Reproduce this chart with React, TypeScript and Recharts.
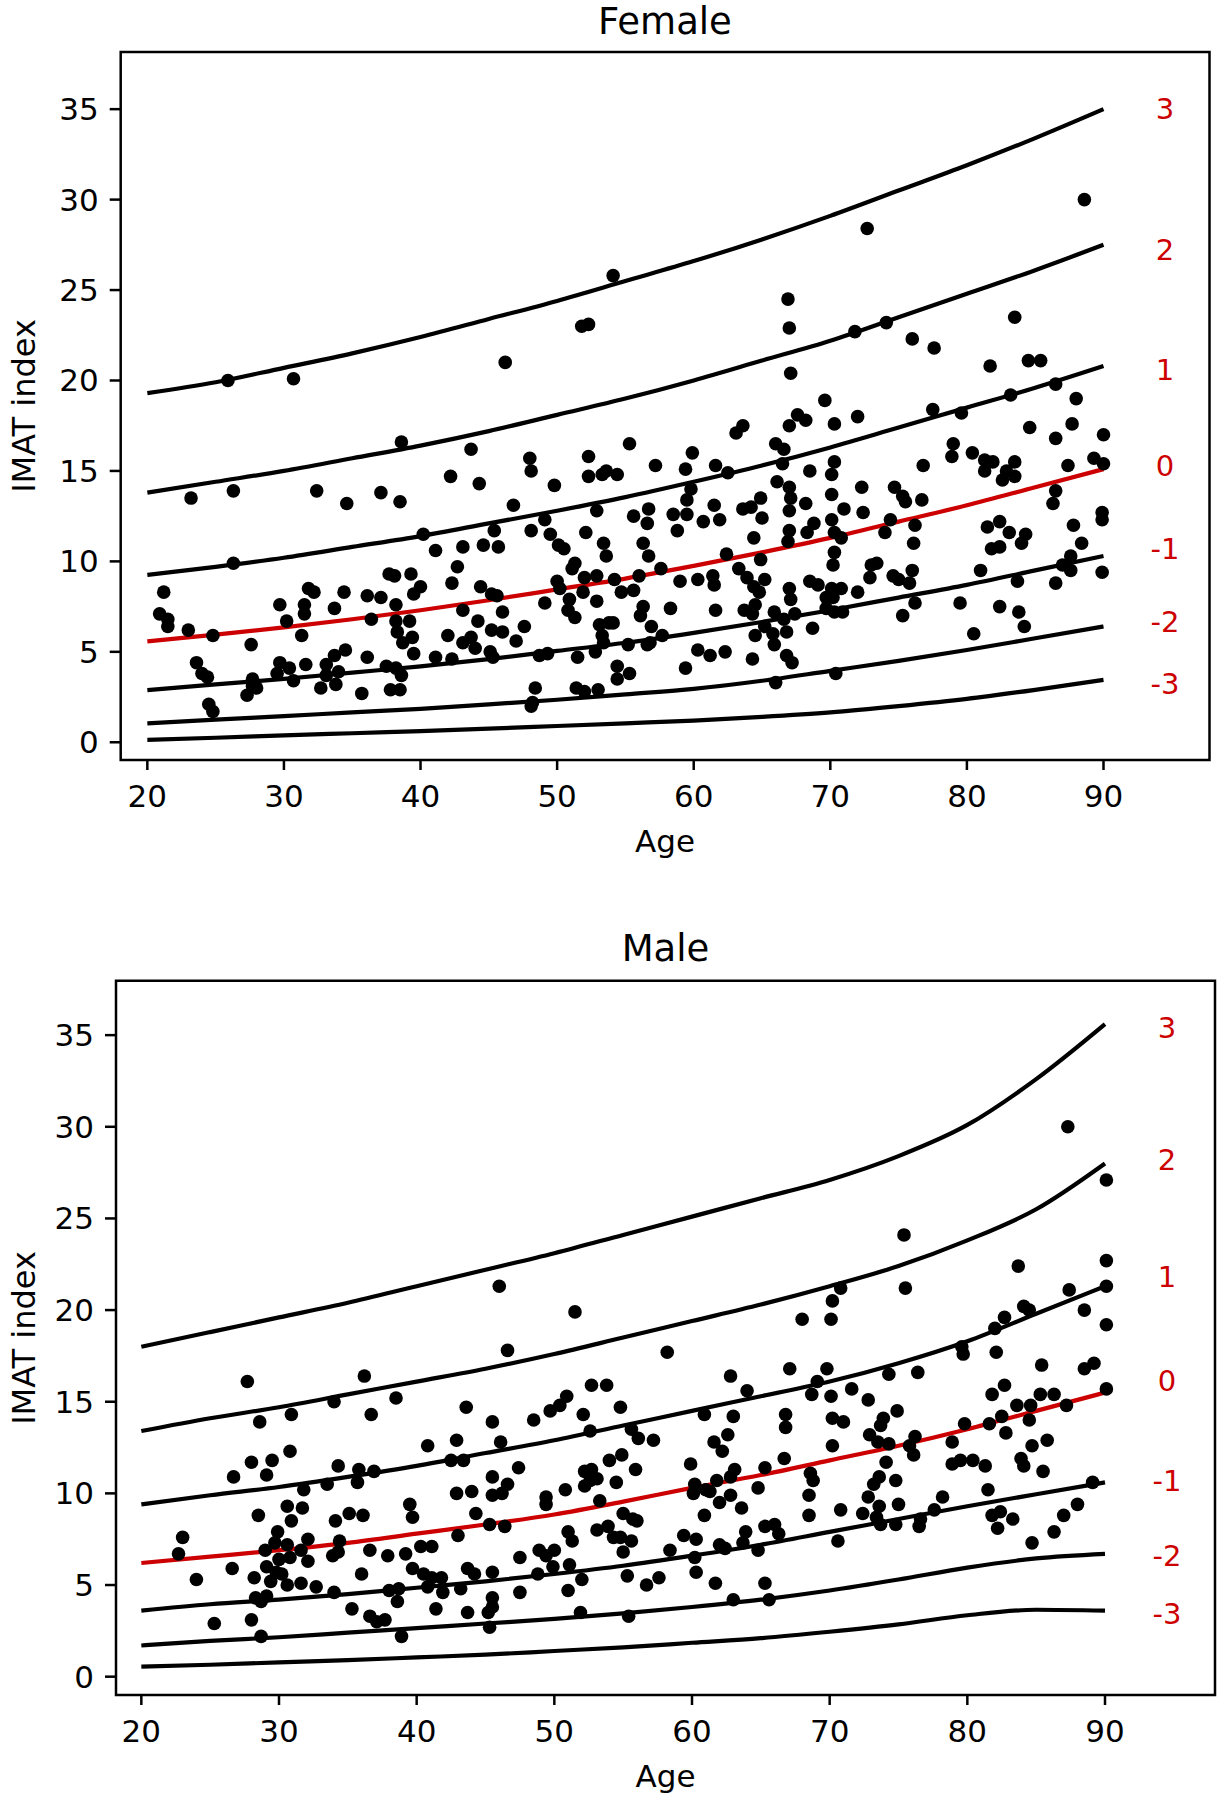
import React from 'react';
import { ComposedChart, Line, Scatter, XAxis, YAxis, ReferenceArea } from 'recharts';

// ages at which the centile curves were read
const curveAges = [20, 25, 30, 35, 40, 45, 50, 55, 60, 65, 70, 75, 80, 85, 90];

// Female curves, z = 3 ... -3
const femaleZ3 = [19.3, 19.9, 20.7, 21.5, 22.4, 23.4, 24.4, 25.5, 26.6, 27.8, 29.1, 30.5, 31.9, 33.4, 35.0];
const femaleZ2 = [13.8, 14.4, 15.0, 15.7, 16.4, 17.2, 18.1, 19.0, 20.0, 21.1, 22.2, 23.5, 24.8, 26.1, 27.5];
const femaleZ1 = [9.25, 9.7, 10.2, 10.8, 11.4, 12.1, 12.8, 13.55, 14.4, 15.3, 16.3, 17.4, 18.5, 19.6, 20.8];
const femaleZ0 = [5.58, 5.95, 6.35, 6.8, 7.3, 7.85, 8.45, 9.05, 9.75, 10.5, 11.3, 12.2, 13.1, 14.1, 15.1];
const femaleZm1 = [2.88, 3.2, 3.5, 3.85, 4.2, 4.6, 5.05, 5.5, 6.05, 6.65, 7.3, 8.0, 8.7, 9.5, 10.3];
const femaleZm2 = [1.04, 1.25, 1.45, 1.65, 1.85, 2.1, 2.35, 2.65, 2.95, 3.4, 3.95, 4.5, 5.1, 5.75, 6.4];
const femaleZm3 = [0.13, 0.25, 0.38, 0.5, 0.62, 0.75, 0.9, 1.05, 1.2, 1.4, 1.65, 2.0, 2.4, 2.9, 3.45];

// Male curves, z = 3 ... -3
const maleZ3 = [18.0, 18.8, 19.6, 20.4, 21.3, 22.2, 23.1, 24.1, 25.1, 26.1, 27.1, 28.4, 30.1, 32.6, 35.6];
const maleZ2 = [13.4, 14.1, 14.7, 15.4, 16.1, 16.8, 17.6, 18.5, 19.4, 20.3, 21.3, 22.4, 23.8, 25.5, 28.0];
const maleZ1 = [9.4, 9.9, 10.35, 10.9, 11.5, 12.2, 12.9, 13.7, 14.5, 15.3, 16.1, 17.1, 18.3, 19.8, 21.3];
const maleZ0 = [6.2, 6.55, 6.9, 7.3, 7.8, 8.3, 8.85, 9.55, 10.3, 11.0, 11.8, 12.6, 13.5, 14.5, 15.5];
const maleZm1 = [3.6, 3.95, 4.2, 4.5, 4.85, 5.2, 5.6, 6.05, 6.6, 7.2, 7.9, 8.6, 9.3, 9.95, 10.6];
const maleZm2 = [1.7, 1.95, 2.15, 2.4, 2.65, 2.9, 3.15, 3.45, 3.8, 4.2, 4.7, 5.3, 5.95, 6.45, 6.7];
const maleZm3 = [0.55, 0.65, 0.78, 0.9, 1.05, 1.2, 1.4, 1.6, 1.85, 2.1, 2.45, 2.85, 3.35, 3.65, 3.6];

// z-score labels drawn at the right end of the curves
const zLabels = ['3', '2', '1', '0', '-1', '-2', '-3'];
const labelAge = 94.5;
const femaleLabelY = [35.0, 27.2, 20.6, 15.3, 10.7, 6.65, 3.2];
const maleLabelY = [35.4, 28.2, 21.8, 16.15, 10.7, 6.6, 3.4];

const xTicks = [20, 30, 40, 50, 60, 70, 80, 90];
const yTicks = [0, 5, 10, 15, 20, 25, 30, 35];

// [age, IMAT index]
const femalePoints: [number, number][] = [
  [25.9, 20.0], [30.7, 20.1], [38.6, 16.6], [23.2, 13.5], [26.3, 13.9], [32.4, 13.9], [34.6, 13.2], [37.1, 13.8],
  [38.5, 13.3], [42.2, 14.7], [40.2, 11.5], [26.3, 9.9], [41.1, 10.6], [42.7, 9.7], [42.3, 8.8], [21.2, 8.3],
  [20.9, 7.1], [21.5, 6.8], [21.5, 6.4], [23.0, 6.2], [24.8, 5.9], [27.6, 5.4], [23.6, 4.4], [24.0, 3.8],
  [24.4, 3.6], [24.5, 2.1], [24.8, 1.7], [29.7, 7.6], [31.8, 8.5], [32.2, 8.3], [31.5, 7.6], [31.5, 7.1],
  [30.2, 6.7], [31.3, 5.9], [33.7, 7.4], [34.4, 8.3], [36.1, 8.1], [37.1, 8.0], [36.4, 6.8], [37.7, 9.3],
  [38.1, 9.2], [39.3, 9.3], [40.0, 8.6], [39.5, 8.2], [38.2, 7.6], [38.2, 6.7], [39.2, 6.7], [38.3, 6.1],
  [39.4, 5.8], [38.7, 5.5], [39.5, 4.9], [42.0, 5.9], [41.1, 4.7], [42.3, 4.6], [29.7, 4.4], [30.4, 4.1],
  [29.5, 3.8], [30.7, 3.4], [31.6, 4.3], [33.1, 4.3], [33.7, 4.8], [34.5, 5.1], [34.0, 3.9], [33.1, 3.7],
  [33.8, 3.2], [32.7, 3.0], [36.1, 4.7], [35.7, 2.7], [37.5, 4.2], [38.2, 4.1], [38.6, 3.7], [37.8, 2.9],
  [38.5, 2.9], [27.7, 3.5], [28.0, 3.0], [27.3, 2.6], [27.7, 3.1],
  [54.1, 25.8], [66.9, 24.5], [67.0, 22.9], [67.1, 20.4], [51.8, 23.0], [52.3, 23.1], [46.2, 21.0], [43.7, 16.2],
  [67.6, 18.1], [67.0, 17.5], [63.1, 17.1], [63.6, 17.5], [55.3, 16.5], [57.2, 15.3], [48.0, 15.7], [48.1, 15.0],
  [44.3, 14.3], [49.8, 14.2], [52.3, 15.8], [52.3, 14.7], [53.3, 14.8], [53.6, 15.0], [54.4, 14.8], [59.4, 15.1],
  [59.9, 16.0], [61.6, 15.3], [62.5, 14.9], [66.0, 16.5], [66.6, 16.2], [66.5, 15.4], [66.1, 14.4], [67.0, 14.1],
  [67.1, 13.5], [64.9, 13.5], [65.0, 12.4], [67.0, 12.8], [67.0, 11.7], [66.9, 11.1], [64.4, 11.3], [64.2, 13.0],
  [63.6, 12.9], [61.5, 13.1], [61.9, 12.3], [60.7, 12.2], [59.5, 12.6], [59.5, 13.4], [59.8, 14.0], [58.5, 12.6],
  [58.8, 11.7], [56.7, 12.9], [56.6, 12.1], [55.6, 12.5], [56.3, 11.0], [56.7, 10.3], [52.9, 12.8], [52.1, 11.6],
  [49.1, 12.3], [48.1, 11.7], [49.5, 11.5], [46.8, 13.1], [45.4, 11.7], [45.7, 10.8], [43.1, 10.8], [44.6, 10.9],
  [50.1, 10.9], [50.5, 10.7], [51.3, 9.9], [51.1, 9.6], [53.4, 11.0], [53.6, 10.3], [52.0, 9.1], [52.9, 9.2],
  [54.2, 9.0], [54.7, 8.3], [55.6, 8.4], [56.0, 9.2], [57.6, 9.6], [59.0, 8.9], [60.3, 9.0], [61.4, 9.2],
  [61.5, 8.7], [62.4, 10.4], [63.3, 9.6], [63.9, 9.1], [64.4, 8.6], [64.8, 8.3], [65.2, 9.0], [64.9, 10.1],
  [67.0, 8.5], [67.1, 7.9], [63.7, 7.3], [64.5, 7.6], [64.3, 7.1], [65.9, 7.2], [66.6, 6.8], [67.4, 7.1],
  [61.6, 7.3], [58.3, 7.4], [56.3, 7.5], [56.1, 7.0], [52.9, 7.8], [50.9, 7.9], [50.8, 7.3], [51.3, 6.9],
  [51.9, 8.3], [50.0, 8.9], [50.2, 8.5], [49.1, 7.7], [44.4, 8.6], [45.2, 8.2], [45.6, 8.1], [46.0, 7.2],
  [43.1, 7.3], [44.2, 6.7], [45.2, 6.2], [46.0, 6.1], [47.6, 6.4], [47.0, 5.6], [43.7, 5.8], [43.1, 5.5],
  [44.0, 5.2], [45.1, 5.0], [45.3, 4.7], [48.7, 4.8], [49.3, 4.9], [51.5, 4.7], [52.8, 5.0], [53.1, 6.5],
  [53.8, 6.6], [54.1, 6.6], [53.3, 5.9], [53.4, 5.5], [55.2, 5.4], [56.9, 6.4], [56.8, 5.5], [57.7, 5.9],
  [56.6, 5.4], [54.4, 4.2], [54.4, 3.5], [55.3, 3.8], [59.4, 4.1], [60.3, 5.1], [61.2, 4.8], [62.3, 5.0],
  [64.3, 4.6], [64.5, 5.9], [65.2, 6.4], [65.8, 6.0], [66.8, 6.1], [65.9, 5.4], [66.8, 4.8], [67.2, 4.4],
  [66.0, 3.3], [48.4, 3.0], [48.2, 2.2], [48.1, 2.0], [51.4, 3.0], [52.0, 2.8], [53.0, 2.9],
  [88.6, 30.0], [72.7, 28.4], [83.5, 23.5], [71.8, 22.7], [74.1, 23.2], [76.0, 22.3], [77.6, 21.8], [81.7, 20.8],
  [84.5, 21.1], [85.4, 21.1], [69.6, 18.9], [68.2, 17.8], [70.3, 17.6], [72.0, 18.0], [77.5, 18.4], [79.6, 18.2],
  [83.2, 19.2], [86.5, 19.8], [88.0, 19.0], [84.6, 17.4], [87.7, 17.6], [86.5, 16.8], [90.0, 17.0], [79.0, 16.5],
  [78.9, 15.8], [80.4, 16.0], [81.3, 15.6], [81.9, 15.5], [81.3, 15.0], [82.6, 14.5], [82.9, 15.0], [83.5, 15.5],
  [83.5, 14.7], [87.4, 15.3], [89.3, 15.7], [90.0, 15.4], [76.8, 15.3], [68.5, 15.0], [70.3, 15.5], [70.1, 14.8],
  [70.1, 13.7], [72.3, 14.1], [74.7, 14.1], [75.3, 13.6], [75.5, 13.3], [76.7, 13.4], [68.2, 13.2], [71.0, 12.9],
  [72.4, 12.7], [70.1, 12.3], [68.8, 12.1], [68.3, 11.6], [70.3, 11.6], [70.8, 11.3], [74.4, 12.3], [74.0, 11.6],
  [76.2, 12.0], [76.1, 11.0], [86.5, 13.9], [86.3, 13.2], [89.9, 12.7], [89.9, 12.3], [87.8, 12.0], [88.4, 11.0],
  [81.5, 11.9], [82.4, 12.2], [83.1, 11.6], [84.3, 11.5], [84.0, 11.0], [81.8, 10.7], [82.4, 10.8], [87.6, 10.3],
  [87.0, 9.8], [87.6, 9.5], [89.9, 9.4], [81.0, 9.5], [83.7, 8.9], [86.5, 8.8], [70.3, 10.5], [70.2, 9.8],
  [73.0, 9.8], [73.4, 9.9], [72.9, 9.1], [74.6, 9.2], [75.0, 9.0], [76.0, 9.5], [75.8, 8.8], [68.5, 8.9],
  [69.1, 8.7], [70.1, 8.5], [70.8, 8.5], [72.0, 8.3], [69.7, 8.0], [70.2, 8.0], [69.7, 7.4], [70.3, 7.2],
  [70.9, 7.2], [76.2, 7.7], [75.3, 7.0], [79.5, 7.7], [82.4, 7.5], [83.8, 7.2], [84.2, 6.4], [80.5, 6.0],
  [68.7, 6.3], [70.4, 3.8],
];

const malePoints: [number, number][] = [
  [27.7, 16.1], [36.2, 16.4], [28.6, 13.9], [30.9, 14.3], [34.0, 15.0], [36.7, 14.3], [38.5, 15.2], [40.8, 12.6],
  [42.5, 11.8], [42.9, 10.0], [30.8, 12.3], [28.0, 11.7], [29.5, 11.8], [29.1, 11.0], [26.7, 10.9], [34.3, 11.5],
  [35.8, 11.3], [36.9, 11.2], [33.5, 10.5], [35.7, 10.6], [31.8, 10.2], [31.7, 9.2], [30.6, 9.3], [30.9, 8.5],
  [28.5, 8.8], [29.9, 7.9], [34.1, 8.5], [35.1, 8.9], [36.1, 8.8], [39.5, 9.4], [39.7, 8.7], [23.0, 7.6],
  [22.7, 6.7], [24.0, 5.3], [26.6, 5.9], [28.2, 5.4], [29.0, 6.9], [29.7, 7.3], [30.6, 7.2], [30.8, 6.5],
  [31.6, 6.9], [32.1, 7.5], [30.0, 6.4], [29.1, 6.0], [29.8, 5.7], [29.4, 5.2], [30.2, 5.6], [32.1, 6.3],
  [30.6, 5.0], [31.6, 5.1], [32.7, 4.9], [33.9, 6.6], [34.4, 7.4], [34.3, 6.8], [36.6, 6.9], [37.9, 6.6],
  [39.2, 6.7], [40.3, 7.1], [41.1, 7.1], [39.7, 5.9], [36.0, 5.6], [40.5, 5.6], [41.1, 5.4], [41.8, 5.4],
  [40.8, 4.9], [41.9, 4.6], [34.0, 4.6], [38.0, 4.7], [38.7, 4.8], [38.6, 4.1], [28.3, 4.3], [29.1, 4.4],
  [28.7, 4.1], [35.3, 3.7], [36.6, 3.3], [37.1, 3.0], [37.7, 3.1], [41.4, 3.7], [25.3, 2.9], [28.0, 3.1],
  [28.7, 2.2], [38.9, 2.2],
  [46.0, 21.3], [51.5, 19.9], [46.6, 17.8], [58.2, 17.7], [62.8, 16.4], [64.0, 15.6], [67.1, 16.8], [43.6, 14.7],
  [45.5, 13.9], [48.5, 14.0], [49.7, 14.5], [50.4, 14.8], [50.9, 15.3], [52.7, 15.9], [53.8, 15.9], [52.1, 14.3],
  [54.8, 14.7], [52.6, 13.4], [55.6, 13.5], [56.1, 13.0], [57.2, 12.9], [46.1, 12.8], [42.9, 12.9], [43.4, 11.8],
  [47.4, 11.4], [45.5, 10.9], [46.6, 10.5], [45.5, 9.9], [46.2, 10.0], [44.0, 10.1], [50.8, 10.2], [49.4, 9.8],
  [49.4, 9.4], [52.2, 11.2], [52.7, 11.3], [52.6, 10.7], [53.1, 10.8], [52.2, 10.4], [54.0, 11.8], [54.9, 12.1],
  [54.5, 10.6], [55.9, 11.3], [53.3, 9.6], [55.0, 8.9], [55.7, 8.6], [56.0, 8.5], [59.9, 11.6], [60.2, 10.5],
  [60.1, 10.0], [61.0, 10.2], [61.8, 10.7], [62.2, 12.3], [61.6, 12.8], [62.6, 13.2], [63.0, 14.2], [60.9, 14.3],
  [63.1, 11.3], [62.8, 10.9], [62.8, 9.9], [62.0, 9.5], [63.6, 9.2], [64.8, 10.3], [65.3, 11.4], [66.7, 11.9],
  [66.8, 14.3], [66.8, 13.6], [61.3, 10.1], [44.3, 8.9], [45.3, 8.3], [46.4, 8.2], [43.0, 7.7], [47.5, 6.5],
  [48.9, 6.9], [49.4, 6.6], [50.0, 6.9], [51.0, 7.9], [51.3, 7.4], [49.9, 6.0], [51.1, 6.1], [53.1, 8.0],
  [53.9, 8.2], [54.3, 7.6], [54.8, 7.6], [55.6, 7.4], [55.0, 6.8], [58.4, 6.9], [59.4, 7.7], [60.3, 7.5],
  [60.2, 6.5], [60.9, 8.8], [62.0, 7.2], [62.4, 7.0], [63.9, 7.9], [63.7, 7.3], [64.8, 6.9], [65.3, 8.2],
  [66.0, 8.3], [66.3, 7.8], [43.7, 5.9], [44.2, 5.6], [45.5, 5.7], [48.8, 5.6], [43.2, 4.8], [52.0, 5.3],
  [51.0, 4.7], [47.5, 4.6], [45.5, 4.3], [45.5, 3.8], [45.2, 3.5], [43.7, 3.5], [45.3, 2.7], [51.9, 3.5],
  [55.3, 5.5], [55.4, 3.3], [56.7, 5.0], [57.6, 5.4], [60.3, 5.7], [61.7, 5.1], [63.0, 4.2], [65.3, 5.1],
  [65.6, 4.2],
  [87.3, 30.0], [90.1, 27.1], [75.4, 24.1], [75.5, 21.2], [83.7, 22.4], [90.1, 22.7], [90.1, 21.3], [87.4, 21.1],
  [90.1, 19.2], [70.8, 21.2], [70.2, 20.5], [70.1, 19.5], [68.0, 19.5], [84.1, 20.2], [84.5, 20.0], [82.7, 19.6],
  [82.0, 19.0], [88.5, 20.0], [79.6, 18.0], [79.7, 17.6], [82.1, 17.7], [69.8, 16.8], [69.1, 16.1], [68.7, 15.4],
  [70.1, 15.3], [74.3, 16.5], [76.4, 16.6], [71.6, 15.7], [72.8, 15.1], [85.4, 17.0], [88.5, 16.8], [89.2, 17.1],
  [90.1, 15.7], [82.7, 15.9], [81.8, 15.4], [85.3, 15.4], [86.3, 15.4], [87.2, 14.8], [83.6, 14.8], [84.6, 14.8],
  [84.5, 14.0], [82.5, 14.2], [81.6, 13.8], [82.8, 13.3], [79.8, 13.8], [70.2, 14.1], [71.0, 13.9], [73.9, 14.1],
  [74.9, 14.5], [73.7, 13.7], [72.9, 13.2], [73.5, 12.8], [74.3, 12.7], [70.2, 12.6], [76.2, 13.1], [75.8, 12.6],
  [76.1, 12.1], [74.1, 11.7], [78.9, 12.8], [85.8, 12.9], [84.7, 12.6], [78.9, 11.6], [79.5, 11.8], [80.4, 11.8],
  [81.3, 11.5], [83.9, 11.9], [84.1, 11.5], [85.5, 11.2], [68.6, 11.1], [68.8, 10.7], [73.6, 10.9], [73.2, 10.5],
  [74.8, 10.7], [89.1, 10.6], [81.5, 10.2], [68.5, 9.9], [68.5, 8.8], [70.8, 9.1], [72.4, 8.9], [72.8, 9.8],
  [73.6, 9.3], [73.4, 8.7], [75.0, 9.4], [73.7, 8.3], [74.8, 8.3], [76.5, 8.2], [76.6, 8.6], [77.6, 9.1],
  [78.2, 9.8], [70.6, 7.4], [81.8, 8.8], [82.4, 9.0], [82.2, 8.1], [83.3, 8.6], [84.7, 7.3], [86.3, 7.9],
  [87.0, 8.8], [88.0, 9.4],
];

const FONT = '"DejaVu Sans", sans-serif';
const RED = '#cc0000';
const curveKeys = ['z3', 'z2', 'z1', 'z0', 'zm1', 'zm2', 'zm3'];

const buildRows = (curves: number[][]) =>
  curveAges.map((age, i) => {
    const row: any = { age };
    curveKeys.forEach((k, j) => { row[k] = curves[j][i]; });
    return row;
  });

const Dot = (props: any) => <circle cx={props.cx} cy={props.cy} r={6.8} fill="#000" />;

const ZText = (props: any) => (
  <text x={props.cx} y={props.cy} textAnchor="middle" dominantBaseline="central"
    fontSize={29} fontFamily={FONT} fill={RED}>{props.payload.name}</text>
);

type PanelProps = {
  curves: number[][];
  points: [number, number][];
  labelY: number[];
  xDomain: [number, number];
  yDomain: [number, number];
  margin: { top: number; right: number; bottom: number; left: number };
  top: number;
};

const Panel = ({ curves, points, labelY, xDomain, yDomain, margin, top }: PanelProps) => {
  const rows = buildRows(curves);
  const scatterData = points.map(([age, imat]) => ({ age, imat }));
  const labelData = labelY.map((v, i) => ({ age: labelAge, imat: v, name: zLabels[i] }));
  return (
    <div style={{ position: 'absolute', left: 0, top }}>
      <ComposedChart width={1221} height={880} data={rows} margin={margin}>
        <XAxis
          dataKey="age" type="number" domain={xDomain} ticks={xTicks} allowDataOverflow interval={0}
          height={80} axisLine={false} tickSize={10} tickMargin={15}
          tickLine={{ stroke: '#000', strokeWidth: 2.5 }}
          tick={{ fill: '#000', fontSize: 31, fontFamily: FONT }}
        />
        <YAxis
          type="number" domain={yDomain} ticks={yTicks} allowDataOverflow interval={0}
          width={80} axisLine={false} tickSize={11} tickMargin={11}
          tickLine={{ stroke: '#000', strokeWidth: 2.5 }}
          tick={{ fill: '#000', fontSize: 31, fontFamily: FONT }}
        />
        <ReferenceArea x1={xDomain[0]} x2={xDomain[1]} y1={yDomain[0]} y2={yDomain[1]}
          fill="none" stroke="#000" strokeWidth={2.5} ifOverflow="visible" />
        {curveKeys.map((k) => (
          <Line key={k} type="monotone" dataKey={k} stroke={k === 'z0' ? RED : '#000'}
            strokeWidth={4.2} dot={false} activeDot={false} isAnimationActive={false} />
        ))}
        <Scatter data={scatterData} dataKey="imat" shape={Dot} isAnimationActive={false} />
        <Scatter data={labelData} dataKey="imat" shape={ZText} isAnimationActive={false} />
      </ComposedChart>
    </div>
  );
};

export default function App() {
  return (
    <div style={{ position: 'absolute', left: 0, top: 0, width: 1221, height: 1800, background: '#fff' }}>
      <Panel
        curves={[femaleZ3, femaleZ2, femaleZ1, femaleZ0, femaleZm1, femaleZm2, femaleZm3]}
        points={femalePoints} labelY={femaleLabelY}
        xDomain={[18.05, 97.76]} yDomain={[-0.98, 38.16]}
        margin={{ top: 52, right: 11.5, bottom: 40, left: 40.7 }} top={0}
      />
      <Panel
        curves={[maleZ3, maleZ2, maleZ1, maleZ0, maleZm1, maleZm2, maleZm3]}
        points={malePoints} labelY={maleLabelY}
        xDomain={[18.16, 97.99]} yDomain={[-1.0, 37.97]}
        margin={{ top: 60.7, right: 6, bottom: 25, left: 36 }} top={920}
      />
      <svg width={1221} height={1800} style={{ position: 'absolute', left: 0, top: 0, pointerEvents: 'none' }}>
        <g fontFamily={FONT} fill="#000" textAnchor="middle">
          <text x={665} y={34} fontSize={37}>Female</text>
          <text x={665.5} y={961} fontSize={37}>Male</text>
          <text x={665} y={852} fontSize={31}>Age</text>
          <text x={665.5} y={1787} fontSize={31}>Age</text>
          <text transform="translate(35,406) rotate(-90)" fontSize={32}>IMAT index</text>
          <text transform="translate(35,1338) rotate(-90)" fontSize={32}>IMAT index</text>
        </g>
      </svg>
    </div>
  );
}
